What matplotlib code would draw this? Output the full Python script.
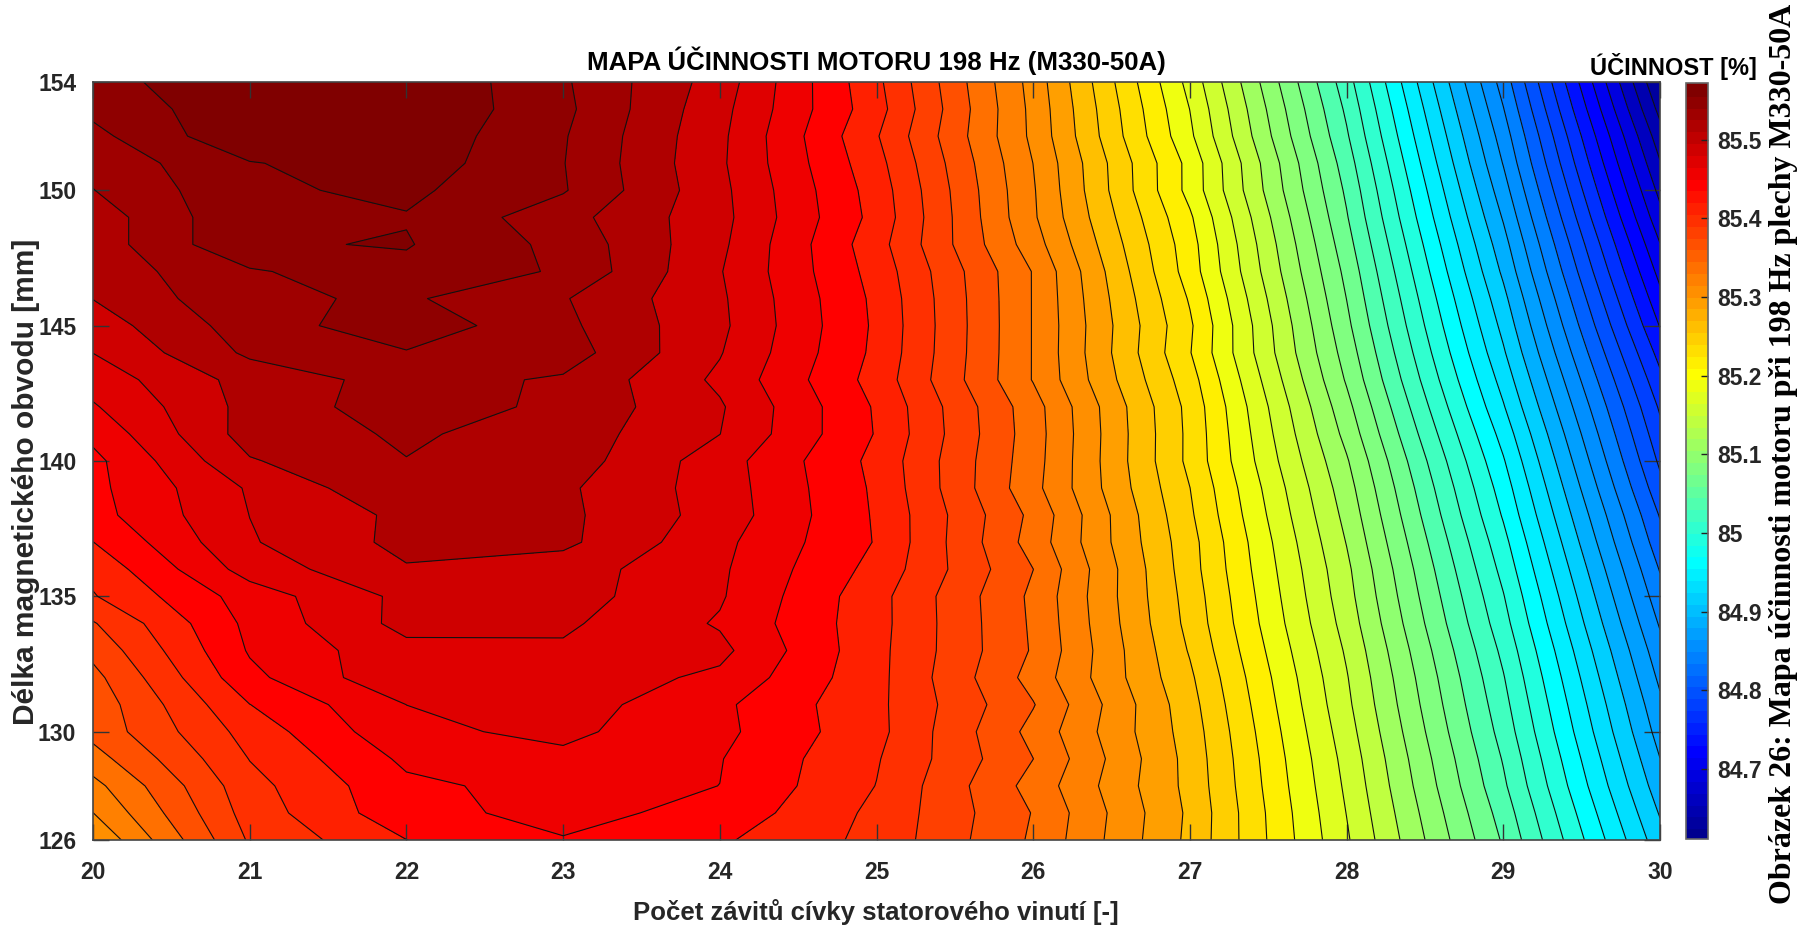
import numpy as np
import matplotlib
matplotlib.use("Agg")
import matplotlib.pyplot as plt
from matplotlib.colors import ListedColormap, Normalize
from matplotlib.cm import ScalarMappable

turns = [20, 21, 22, 23, 24, 25, 26, 27, 28, 29, 30]
length_mm = [154, 153, 152, 151, 150, 149, 148, 147, 146, 145, 144, 143, 142, 141, 140,
             139, 138, 137, 136, 135, 134, 133, 132, 131, 130, 129, 128, 127, 126]

eff_n20 = [85.548, 85.539, 85.529, 85.521, 85.515, 85.505, 85.505, 85.504, 85.497, 85.487, 85.478, 85.467, 85.457, 85.445, 85.435,
           85.435, 85.433, 85.421, 85.408, 85.401, 85.382, 85.370, 85.359, 85.353, 85.352, 85.338, 85.321, 85.308, 85.291]
eff_n21 = [85.564, 85.567, 85.569, 85.552, 85.550, 85.551, 85.551, 85.532, 85.531, 85.525, 85.519, 85.504, 85.503, 85.505, 85.495,
           85.480, 85.478, 85.476, 85.467, 85.449, 85.445, 85.442, 85.435, 85.421, 85.410, 85.403, 85.396, 85.392, 85.386]
eff_n22 = [85.572, 85.571, 85.567, 85.564, 85.557, 85.552, 85.5545, 85.548, 85.537, 85.546, 85.533, 85.523, 85.526, 85.518, 85.515,
           85.513, 85.501, 85.502, 85.495, 85.483, 85.484, 85.472, 85.475, 85.459, 85.455, 85.444, 85.436, 85.434, 85.421]
eff_n23 = [85.537, 85.539, 85.536, 85.535, 85.536, 85.523, 85.529, 85.532, 85.517, 85.520, 85.525, 85.513, 85.511, 85.507, 85.507,
           85.500, 85.501, 85.501, 85.487, 85.486, 85.481, 85.475, 85.470, 85.468, 85.463, 85.455, 85.447, 85.446, 85.439]
eff_n24 = [85.488, 85.484, 85.482, 85.481, 85.483, 85.484, 85.482, 85.479, 85.481, 85.482, 85.479, 85.474, 85.480, 85.478, 85.468,
           85.469, 85.470, 85.464, 85.462, 85.461, 85.457, 85.464, 85.455, 85.444, 85.445, 85.441, 85.440, 85.434, 85.424]
eff_n25 = [85.407, 85.410, 85.404, 85.409, 85.413, 85.415, 85.410, 85.414, 85.417, 85.418, 85.417, 85.414, 85.419, 85.420, 85.416,
           85.418, 85.419, 85.420, 85.415, 85.409, 85.409, 85.408, 85.408, 85.407, 85.408, 85.404, 85.402, 85.398, 85.397]
eff_n26 = [85.301, 85.303, 85.304, 85.308, 85.310, 85.311, 85.317, 85.326, 85.326, 85.326, 85.326, 85.326, 85.335, 85.336, 85.335,
           85.333, 85.341, 85.338, 85.346, 85.342, 85.343, 85.344, 85.339, 85.347, 85.340, 85.346, 85.339, 85.345, 85.343]
eff_n27 = [85.170, 85.176, 85.180, 85.189, 85.189, 85.198, 85.203, 85.205, 85.212, 85.217, 85.215, 85.222, 85.227, 85.228, 85.228,
           85.233, 85.236, 85.240, 85.241, 85.244, 85.246, 85.250, 85.255, 85.259, 85.262, 85.264, 85.265, 85.267, 85.266]
eff_n28 = [85.015, 85.022, 85.028, 85.035, 85.041, 85.046, 85.052, 85.058, 85.063, 85.068, 85.074, 85.080, 85.088, 85.095, 85.103,
           85.109, 85.114, 85.119, 85.124, 85.127, 85.131, 85.136, 85.140, 85.143, 85.147, 85.151, 85.154, 85.157, 85.160]
eff_n29 = [84.829, 84.838, 84.847, 84.855, 84.864, 84.873, 84.882, 84.890, 84.899, 84.907, 84.915, 84.924, 84.933, 84.943, 84.952,
           84.960, 84.967, 84.975, 84.982, 84.989, 84.995, 85.002, 85.008, 85.013, 85.018, 85.024, 85.029, 85.036, 85.042]
eff_n30 = [84.611, 84.624, 84.638, 84.650, 84.662, 84.674, 84.687, 84.699, 84.711, 84.723, 84.736, 84.748, 84.759, 84.768, 84.777,
           84.787, 84.798, 84.807, 84.817, 84.826, 84.835, 84.844, 84.852, 84.860, 84.867, 84.875, 84.883, 84.892, 84.901]

x_ticks = [20, 21, 22, 23, 24, 25, 26, 27, 28, 29, 30]
y_ticks = [126, 130, 135, 140, 145, 150, 154]
cbar_ticks = [84.7, 84.8, 84.9, 85, 85.1, 85.2, 85.3, 85.4, 85.5]
cbar_labels = ["84.7", "84.8", "84.9", "85", "85.1", "85.2", "85.3", "85.4", "85.5"]

title = "MAPA ÚČINNOSTI MOTORU 198 Hz (M330-50A)"
x_label = "Počet závitů cívky statorového vinutí [-]"
y_label = "Délka magnetického obvodu [mm]"
cbar_title = "ÚČINNOST [%]"
caption = "Obrázek 26: Mapa účinnosti motoru při 198 Hz plechy M330-50A"

W, H = 1807, 934
SANS = ["Liberation Sans", "DejaVu Sans"]
GREY = "#262626"

def box(l, t, r, b):
    return [l / W, 1 - b / H, (r - l) / W, (b - t) / H]

def jet_like(m=64):
    n = int(np.ceil(m / 4))
    u = np.r_[np.arange(1, n + 1) / n, np.ones(n - 1), np.arange(n, 0, -1) / n]
    g = (int(np.ceil(n / 2)) - (1 if m % 4 == 1 else 0) + np.arange(1, len(u) + 1)).astype(int)
    r, b = g + n, g - n
    rgb = np.zeros((m, 3))
    rgb[r[r <= m] - 1, 0] = u[r <= m]
    rgb[g[g <= m] - 1, 1] = u[g <= m]
    rgb[b[b >= 1] - 1, 2] = u[b >= 1]
    return ListedColormap(rgb)

Z = np.column_stack([eff_n20, eff_n21, eff_n22, eff_n23, eff_n24, eff_n25,
                     eff_n26, eff_n27, eff_n28, eff_n29, eff_n30])
X, Y = np.meshgrid(turns, length_mm)
zmin, zmax = Z.min(), Z.max()
lines = np.linspace(zmin, zmax, 52)[1:-1]
fill = np.r_[zmin - 0.002, lines, zmax + 0.002]

cmap64 = jet_like(64)
norm = Normalize(zmin, zmax)
band_colors = [cmap64(norm(min(u, zmax))) for u in fill[1:]]

fig = plt.figure(figsize=(W / 100, H / 100), dpi=100)
ax = fig.add_axes(box(93, 82, 1660, 840))
ax.contourf(X, Y, Z, levels=fill, colors=band_colors, antialiased=False)
ax.contour(X, Y, Z, levels=lines, colors="#111111", linewidths=0.8)
ax.set_xlim(20, 30)
ax.set_ylim(126, 154)
ax.set_xticks(x_ticks)
ax.set_yticks(y_ticks)
ax.tick_params(direction="in", length=11.5, width=1.0, top=True, right=True, color="#333333",
               labelsize=16.5, labelcolor=GREY)
ax.tick_params(axis="x", pad=15)
ax.tick_params(axis="y", pad=12)
for lab in ax.get_xticklabels() + ax.get_yticklabels():
    lab.set_family(SANS)
    lab.set_fontweight("bold")
for s in ax.spines.values():
    s.set_linewidth(1.2)
    s.set_color("#444444")

fig.text(876 / W, 1 - 61 / H, title, family=SANS, fontweight="bold", fontsize=18.6, color="black",
         ha="center", va="center")
fig.text(876 / W, 1 - 912 / H, x_label, family=SANS, fontweight="bold", fontsize=18.5, color=GREY,
         ha="center", va="center")
fig.text(26 / W, 1 - 482 / H, y_label, family=SANS, fontweight="bold", fontsize=21.5, color=GREY,
         ha="center", va="center", rotation=90)

cax = fig.add_axes(box(1686, 83, 1708, 839))
cb = fig.colorbar(ScalarMappable(norm=norm, cmap=cmap64), cax=cax, ticks=cbar_ticks)
cb.set_ticklabels(cbar_labels)
cax.tick_params(direction="in", length=5, width=1.0, color="#222222", labelsize=16.5, labelcolor=GREY, pad=7)
for lab in cax.get_yticklabels():
    lab.set_family(SANS)
    lab.set_fontweight("bold")
cb.outline.set_edgecolor("#666666")
cb.outline.set_linewidth(1.2)
cb.solids.set_edgecolor("face")

fig.text(1757 / W, 1 - 66 / H, cbar_title, family=SANS, fontweight="bold", fontsize=17, color="black",
         ha="right", va="center")
fig.text(1783 / W, 1 - 454 / H, caption, family=["Liberation Serif", "DejaVu Serif"], fontweight="bold",
         fontsize=23, color="black", ha="center", va="center", rotation=90)

fig.savefig("out.png", dpi=100)
